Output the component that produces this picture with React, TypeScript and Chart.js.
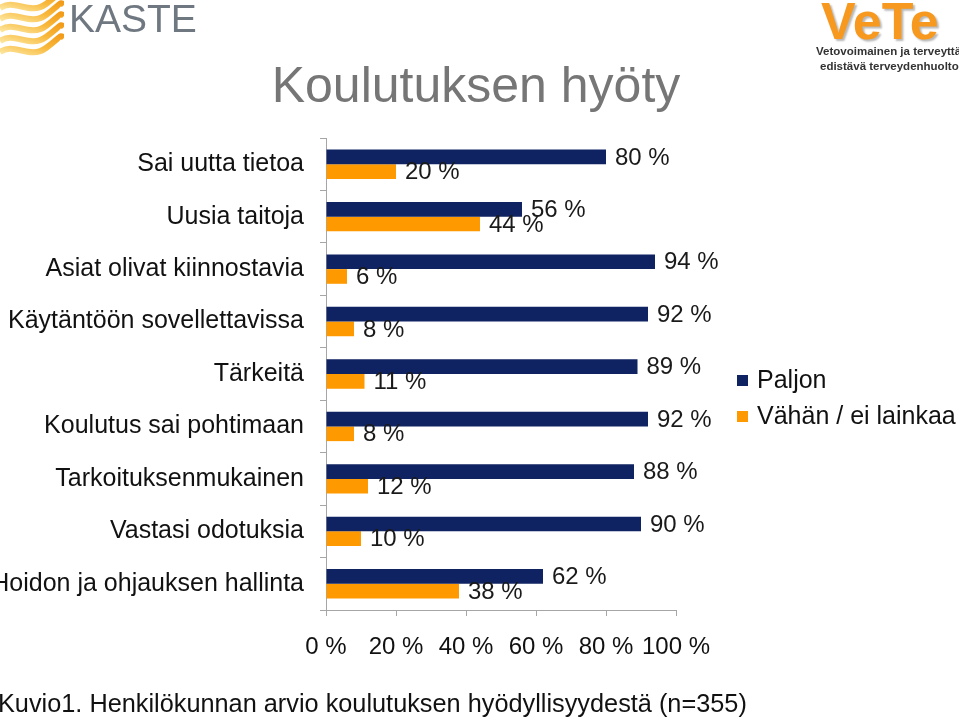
import React, { useEffect, useRef } from "react";
import { Chart, registerables } from "chart.js";

Chart.register(...registerables);

const categories = [
  "Sai uutta tietoa",
  "Uusia taitoja",
  "Asiat olivat kiinnostavia",
  "Käytäntöön sovellettavissa",
  "Tärkeitä",
  "Koulutus sai pohtimaan",
  "Tarkoituksenmukainen",
  "Vastasi odotuksia",
  "Hoidon ja ohjauksen hallinta",
];
const paljon = [80, 56, 94, 92, 89, 92, 88, 90, 62];
const vahan = [20, 44, 6, 8, 11, 8, 12, 10, 38];
const seriesNames = ["Paljon", "Vähän / ei lainkaa"];
const xTicks = [0, 20, 40, 60, 80, 100];

const NAVY = "#0f2262";
const ORANGE = "#ff9900";
const FONT = "'Liberation Sans', Arial, sans-serif";

const dataLabelPlugin = {
  id: "dataLabels",
  afterDatasetsDraw(chart: any) {
    const ctx = chart.ctx;
    ctx.save();
    ctx.font = `24px ${FONT}`;
    ctx.fillStyle = "#1a1a1a";
    ctx.textBaseline = "middle";
    ctx.textAlign = "left";
    chart.data.datasets.forEach((ds: any, di: number) => {
      const meta = chart.getDatasetMeta(di);
      meta.data.forEach((el: any, i: number) => {
        ctx.fillText(`${ds.data[i]} %`, el.x + 9, el.y + 1);
      });
    });
    ctx.restore();
  },
};

const legendPlugin = {
  id: "customLegend",
  afterDraw(chart: any) {
    const ctx = chart.ctx;
    const x = chart.chartArea.right + 61;
    const ys = [381, 417];
    ctx.save();
    ctx.font = `25px ${FONT}`;
    ctx.textBaseline = "middle";
    ctx.textAlign = "left";
    chart.data.datasets.forEach((ds: any, i: number) => {
      ctx.fillStyle = ds.backgroundColor;
      ctx.fillRect(x, ys[i] - 6, 11, 11);
      ctx.fillStyle = "#111";
      ctx.fillText(ds.label, x + 20, ys[i]);
    });
    ctx.restore();
  },
};

function ChartCanvas() {
  const ref = useRef<HTMLCanvasElement | null>(null);
  useEffect(() => {
    if (!ref.current) return;
    const chart = new Chart(ref.current, {
      type: "bar",
      data: {
        labels: categories,
        datasets: [
          { label: seriesNames[0], data: paljon, backgroundColor: NAVY, categoryPercentage: 0.56, barPercentage: 1 },
          { label: seriesNames[1], data: vahan, backgroundColor: ORANGE, categoryPercentage: 0.56, barPercentage: 1 },
        ],
      },
      options: {
        indexAxis: "y",
        responsive: false,
        animation: false,
        devicePixelRatio: 1,
        layout: { padding: { top: 138, right: 283, left: 0, bottom: 0 } },
        plugins: { legend: { display: false }, tooltip: { enabled: false }, title: { display: false } },
        scales: {
          x: {
            type: "linear",
            min: 0,
            max: 100,
            afterBuildTicks: (s: any) => {
              s.ticks = xTicks.map((v) => ({ value: v }));
            },
            ticks: {
              callback: (v: any) => `${v} %`,
              font: { size: 24, family: FONT },
              color: "#111",
              padding: 17,
              maxRotation: 0,
              autoSkip: false,
            },
            grid: { drawOnChartArea: false, drawTicks: true, tickLength: 6, color: "#a6a6a6" },
            border: { color: "#a6a6a6" },
            afterFit: (s: any) => {
              s.height = 109;
            },
          },
          y: {
            type: "category",
            ticks: { font: { size: 25, family: FONT }, color: "#111", padding: 16, autoSkip: false },
            grid: { offset: true, drawOnChartArea: false, drawTicks: true, tickLength: 6, color: "#a6a6a6" },
            border: { color: "#a6a6a6" },
            afterFit: (s: any) => {
              s.width = 326;
            },
          },
        },
      },
      plugins: [dataLabelPlugin, legendPlugin],
    } as any);
    return () => chart.destroy();
  }, []);
  return (
    <canvas
      ref={ref}
      width={959}
      height={719}
      style={{ position: "absolute", left: 0, top: 0, width: 959, height: 719 }}
    />
  );
}

function KasteLogo() {
  return (
    <div style={{ position: "absolute", left: 0, top: 0, width: 210, height: 64 }}>
      <svg width={64} height={62} style={{ position: "absolute", left: 0, top: 0 }}>
        <defs>
          <linearGradient id="kg" x1="0" y1="1" x2="1" y2="0">
            <stop offset="0" stopColor="#fde49a" />
            <stop offset="0.5" stopColor="#f8b93c" />
            <stop offset="1" stopColor="#f39c1a" />
          </linearGradient>
        </defs>
        {[4, 15, 26, 37, 48].map((y, i) => (
          <path
            key={i}
            d={`M0,${y + 4} C14,${y - 6} 30,${y + 12} 46,${y} S60,${y - 14} 64,${y - 10}`}
            stroke="url(#kg)"
            strokeWidth={6}
            fill="none"
          />
        ))}
      </svg>
      <div
        style={{
          position: "absolute",
          left: 69,
          top: -3,
          fontFamily: FONT,
          fontSize: 39,
          color: "#6f7781",
          lineHeight: "44px",
          letterSpacing: 0,
        }}
      >
        KASTE
      </div>
    </div>
  );
}

function VeteLogo() {
  return (
    <div style={{ position: "absolute", left: 810, top: 0, width: 160, height: 80 }}>
      <div
        style={{
          position: "absolute",
          left: 11,
          top: -8,
          fontFamily: FONT,
          fontWeight: "bold",
          fontSize: 52,
          lineHeight: "58px",
          color: "#f7991f",
          textShadow: "2px 2px 2px #b8b8b8",
        }}
      >
        VeTe
      </div>
      <div
        style={{
          position: "absolute",
          left: 6,
          top: 44,
          fontFamily: FONT,
          fontWeight: "bold",
          fontSize: 11.5,
          lineHeight: "15px",
          color: "#333",
          whiteSpace: "nowrap",
        }}
      >
        Vetovoimainen ja terveyttä
        <br />
        <span style={{ marginLeft: 4 }}>edistävä terveydenhuolto</span>
      </div>
    </div>
  );
}

export default function App() {
  useEffect(() => {
    document.body.style.margin = "0";
  }, []);
  return (
    <div style={{ position: "relative", width: 959, height: 719, overflow: "hidden", background: "#fff" }}>
      <ChartCanvas />
      <KasteLogo />
      <VeteLogo />
      <div
        style={{
          position: "absolute",
          left: 0,
          width: 952,
          top: 55,
          textAlign: "center",
          fontFamily: FONT,
          fontSize: 50,
          lineHeight: "60px",
          color: "#767676",
        }}
      >
        Koulutuksen hyöty
      </div>
      <div
        style={{
          position: "absolute",
          left: -2,
          top: 688,
          fontFamily: FONT,
          fontSize: 25.3,
          lineHeight: "30px",
          color: "#111",
          whiteSpace: "nowrap",
        }}
      >
        Kuvio1. Henkilökunnan arvio koulutuksen hyödyllisyydestä (n=355)
      </div>
    </div>
  );
}
